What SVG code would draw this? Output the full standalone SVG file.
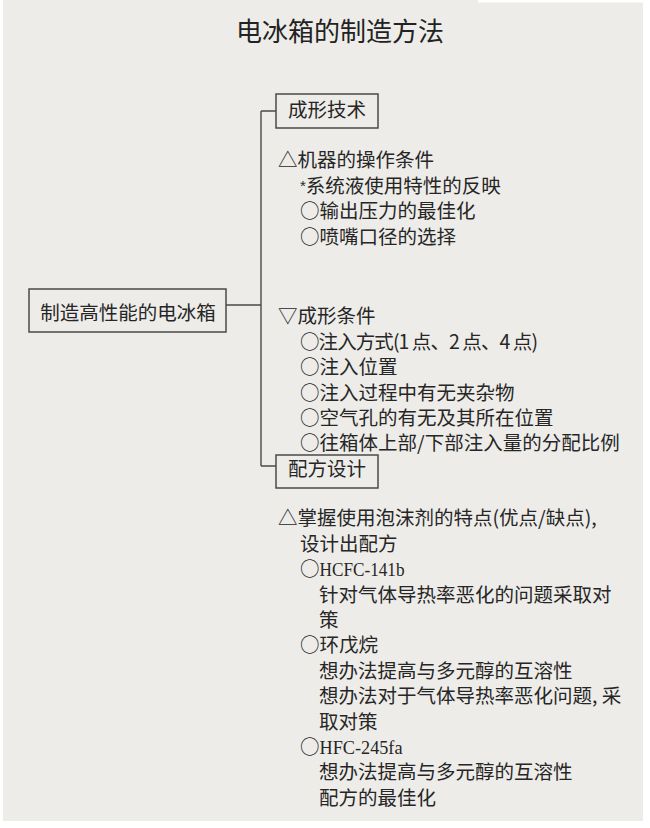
<svg xmlns="http://www.w3.org/2000/svg" width="650" height="828" viewBox="0 0 650 828">
<style>
.t{font-family:"Noto Sans CJK SC","Noto Sans CJK JP",sans-serif;font-size:19.5px;fill:#262626}
.title{font-family:"Noto Sans CJK SC","Noto Sans CJK JP",sans-serif;font-size:26px;fill:#222}
.lat{font-family:"Liberation Serif",serif;font-size:19px}
.box{fill:none;stroke:#4a4a4a;stroke-width:1.5}
.ln{fill:none;stroke:#4a4a4a;stroke-width:1.4}
</style>
<rect x="0" y="0" width="650" height="828" fill="#ffffff"/>
<rect x="3" y="0" width="640" height="821" fill="#edece8"/>
<rect x="478" y="0" width="172" height="2.5" fill="#ffffff"/>
<text class="title" x="340" y="41" text-anchor="middle">电冰箱的制造方法</text>
<g id="connectors">
<path class="ln" d="M226 305 H261 M261 111 V466 M261 111 H276 M261 466 H276"/>
</g>
<g id="root">
<rect class="box" x="29" y="289" width="197" height="43"/>
<text class="t" x="128" y="319.5" text-anchor="middle">制造高性能的电冰箱</text>
</g>
<g id="forming">
<rect class="box" x="276" y="94" width="102" height="34"/>
<text class="t" x="327" y="117" text-anchor="middle">成形技术</text>
</g>
<g id="forming-items">
<text class="t" x="278" y="167.4">△机器的操作条件</text>
<text class="t" x="300" y="192.8"><tspan font-family="Liberation Sans" font-size="15" dy="-2">*</tspan><tspan dy="2">系统液使用特性的反映</tspan></text>
<text class="t" x="300" y="218.2">○输出压力的最佳化</text>
<text class="t" x="300" y="243.6">○喷嘴口径的选择</text>
<text class="t" x="278" y="323.4">▽成形条件</text>
<text class="t" x="300" y="348.8" textLength="238" lengthAdjust="spacing">○注入方式(1 点、2 点、4 点)</text>
<text class="t" x="300" y="374.2">○注入位置</text>
<text class="t" x="300" y="399.6">○注入过程中有无夹杂物</text>
<text class="t" x="300" y="425">○空气孔的有无及其所在位置</text>
<text class="t" x="300" y="450.4">○往箱体上部/下部注入量的分配比例</text>
</g>
<g id="formula">
<rect class="box" x="276" y="455" width="102" height="33"/>
<text class="t" x="327" y="475.5" text-anchor="middle">配方设计</text>
</g>
<g id="formula-items">
<text class="t" x="278" y="525.4">△掌握使用泡沫剂的特点(优点/缺点),</text>
<text class="t" x="300" y="550.8">设计出配方</text>
<text class="t" x="300" y="576.2">○<tspan class="lat" textLength="85" lengthAdjust="spacingAndGlyphs">HCFC-141b</tspan></text>
<text class="t" x="319" y="601.6">针对气体导热率恶化的问题采取对</text>
<text class="t" x="319" y="627">策</text>
<text class="t" x="300" y="652.4">○环戊烷</text>
<text class="t" x="319" y="677.8">想办法提高与多元醇的互溶性</text>
<text class="t" x="319" y="703.2">想办法对于气体导热率恶化问题, 采</text>
<text class="t" x="319" y="728.6">取对策</text>
<text class="t" x="300" y="754">○<tspan class="lat" textLength="83" lengthAdjust="spacingAndGlyphs">HFC-245fa</tspan></text>
<text class="t" x="319" y="779.4">想办法提高与多元醇的互溶性</text>
<text class="t" x="319" y="804.8">配方的最佳化</text>
</g>
</svg>
